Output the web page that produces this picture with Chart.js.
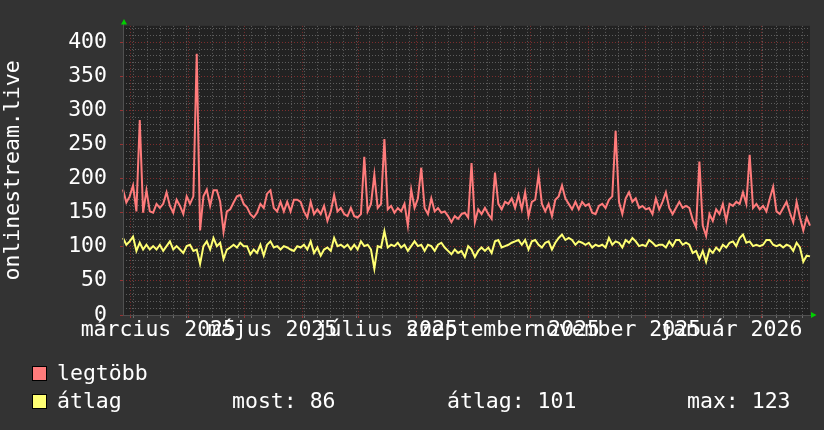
<!DOCTYPE html>
<html>
<head>
<meta charset="utf-8">
<script src="https://cdn.jsdelivr.net/npm/chart.js@4.4.1/dist/chart.umd.min.js"></script>
<style>
html, body { margin: 0; padding: 0; background: #333333; }
#doboz { width: 824px; height: 430px; }
</style>
</head>
<body>
<div id="doboz"><canvas id="grafikon" width="824" height="430"></canvas></div>
<script>

// napi mintak, kb. 1,8 naponkent (2025. febr. vege - 2026. febr. vege)
var legtobb = [
    184, 165, 174, 190, 152, 286, 150, 183, 152, 150,
    163, 157, 163, 180, 160, 150, 169, 160, 148, 174,
    163, 174, 383, 124, 174, 184, 160, 183, 183, 166,
    122, 152, 155, 165, 174, 176, 163, 158, 148, 143,
    150, 163, 157, 178, 183, 157, 152, 166, 152, 166,
    152, 169, 169, 166, 152, 143, 166, 148, 155, 148,
    160, 138, 152, 176, 152, 157, 148, 145, 157, 145,
    143, 148, 232, 152, 163, 206, 157, 163, 258, 155,
    160, 150, 157, 152, 163, 131, 184, 157, 171, 216,
    157, 148, 171, 152, 157, 150, 152, 145, 136, 145,
    141, 148, 150, 143,
    223, 136, 155, 148, 157, 148, 141, 209, 163, 155,
    166, 163, 171, 157, 176, 155, 180, 145, 166, 169,
    206, 163, 152, 163, 145, 169, 174, 190, 171, 163,
    155, 166, 155, 166, 160, 163, 150, 148, 160, 163,
    157, 169, 174, 270, 166, 148, 171, 180, 166, 171,
    157, 160, 155, 157, 148, 171, 155, 166, 180, 157,
    148, 157, 166, 157, 160, 157, 140, 129, 225, 131,
    116, 148, 138, 155, 148, 163, 138, 163, 160, 166,
    163, 180, 163, 235, 157, 163, 155, 160, 152, 171,
    188, 152, 148, 157, 166, 150, 136, 166, 143, 124,
    143, 131
];

var atlag = [
    113, 103, 108, 115, 94, 106, 96, 103, 96, 101,
    96, 103, 94, 101, 108, 96, 101, 96, 91, 101,
    103, 94, 96, 75, 101, 108, 96, 113, 101, 106,
    82, 96, 99, 103, 99, 106, 101, 101, 89, 96,
    91, 103, 87, 103, 108, 99, 101, 96, 101, 99,
    96, 94, 101, 99, 103, 96, 108, 91, 99, 87,
    96, 99, 94, 113, 101, 103, 99, 103, 96, 103,
    96, 108, 101, 103, 96, 68, 101, 99, 123, 99,
    103, 101, 106, 99, 103, 94, 101, 108, 101, 103,
    94, 103, 101, 94, 103, 106, 99, 94, 89, 96,
    91, 94, 85, 101,
    96, 85, 94, 99, 94, 99, 91, 108, 110, 99,
    101, 103, 106, 108, 110, 103, 110, 96, 108, 110,
    103, 99, 106, 108, 96, 106, 113, 118, 110, 113,
    110, 103, 108, 106, 103, 106, 99, 103, 101, 103,
    99, 113, 103, 108, 106, 99, 110, 106, 113, 108,
    101, 103, 101, 110, 106, 101, 103, 103, 99, 108,
    101, 110, 110, 103, 106, 103, 91, 94, 82, 94,
    78, 96, 91, 99, 94, 103, 99, 106, 108, 101,
    113, 118, 106, 108, 101, 103, 101, 103, 110, 110,
    103, 101, 103, 99, 103, 101, 94, 106, 99, 78,
    87, 86
];

var cimkek = ['március 2025', 'május 2025', 'július 2025', 'szeptember 2025', 'november 2025', 'január 2026'];
var cimkeHonapok = [2, 4, 6, 8, 10, 12];   // honap sorszama 2025 januartol

var NAP = 864e5;
var kezdet = Date.UTC(2025, 1, 25, 3, 0);
var hossz = 367;
function nap(t) { return (t - kezdet) / NAP; }

var betu = '"DejaVu Sans Mono", "Liberation Mono", monospace';
var piros = '#ff7b7b';
var sarga = '#ffff73';
var racsSzurke = 'rgba(100,100,100,0.9)';
var racsPiros = 'rgb(125,45,45)';

var mind = atlag.reduce(function (a, b) { return a + b; }, 0);
var most = atlag[atlag.length - 1];
var atl = Math.round(mind / atlag.length);
var maxi = Math.max.apply(null, atlag);

var hatter = {
    id: 'hatter',
    beforeDraw: function (chart) {
        var ctx = chart.ctx, a = chart.chartArea;
        ctx.save();
        ctx.fillStyle = '#333333';
        ctx.fillRect(0, 0, chart.width, chart.height);
        ctx.fillStyle = '#222222';
        ctx.fillRect(a.left, a.top, a.right - a.left, a.bottom - a.top);
        ctx.restore();
    },
    afterDraw: function (chart) {
        var ctx = chart.ctx, a = chart.chartArea;
        ctx.save();
        // tengelyek
        ctx.strokeStyle = '#505050';
        ctx.lineWidth = 1;
        ctx.beginPath();
        ctx.moveTo(a.left + 0.5, a.bottom);
        ctx.lineTo(a.left + 0.5, a.top - 2);
        ctx.moveTo(a.left, a.bottom + 0.5);
        ctx.lineTo(a.right + 2, a.bottom + 0.5);
        ctx.stroke();
        // zold nyilak
        ctx.fillStyle = '#00d000';
        ctx.beginPath();
        ctx.moveTo(a.left - 2, a.top - 1.5);
        ctx.lineTo(a.left + 4, a.top - 1.5);
        ctx.lineTo(a.left + 1, a.top - 7);
        ctx.closePath();
        ctx.fill();
        ctx.beginPath();
        ctx.moveTo(a.right + 1, a.bottom - 3);
        ctx.lineTo(a.right + 1, a.bottom + 3);
        ctx.lineTo(a.right + 6.5, a.bottom);
        ctx.closePath();
        ctx.fill();

        // jelmagyarazat
        ctx.font = '21.5px ' + betu;
        ctx.textBaseline = 'alphabetic';
        ctx.textAlign = 'left';
        var sorok = [
            { szin: piros, nev: chart.data.datasets[0].label, y: 366 },
            { szin: sarga, nev: chart.data.datasets[1].label, y: 394 }
        ];
        sorok.forEach(function (s) {
            ctx.fillStyle = s.szin;
            ctx.fillRect(32, s.y, 15, 15);
            ctx.strokeStyle = '#000000';
            ctx.strokeRect(32.5, s.y + 0.5, 14, 14);
            ctx.fillStyle = '#ffffff';
            ctx.fillText(s.nev, 57, s.y + 13.5);
        });
        ctx.fillStyle = '#ffffff';
        ctx.fillText('most: ' + most, 232, 407.5);
        ctx.fillText('átlag: ' + atl, 447, 407.5);
        ctx.fillText('max: ' + maxi, 687, 407.5);
        ctx.restore();
    }
};

function idoTickek(scale) {
    var t = [];
    var veg = kezdet + hossz * NAP;
    for (var d = Date.UTC(2025, 2, 3); d < veg; d += 7 * NAP) {
        t.push({ value: nap(d), tipus: 'het' });
    }
    for (var m = 2; m <= 13; m++) {
        t.push({ value: nap(Date.UTC(2025, m, 1)), tipus: 'honap' });
    }
    cimkek.forEach(function (c, i) {
        t.push({ value: nap(Date.UTC(2025, cimkeHonapok[i], 1)) + 15, tipus: 'cimke', szoveg: c });
    });
    t.sort(function (a, b) { return a.value - b.value; });
    scale.ticks = t;
}

function ertekTickek(scale) {
    var t = [];
    for (var v = 0; v <= 420; v += 10) t.push({ value: v });
    scale.ticks = t;
}

var ctx = document.getElementById('grafikon').getContext('2d');

new Chart(ctx, {
    type: 'line',
    data: {
        labels: legtobb.map(function (v, i) { return i; }),
        datasets: [{
            label: 'legtöbb',
            data: legtobb,
            borderColor: piros,
            borderWidth: 2,
            pointRadius: 0,
            tension: 0,
            fill: false,
            xAxisID: 'x',
            yAxisID: 'y'
        }, {
            label: 'átlag',
            data: atlag,
            borderColor: sarga,
            borderWidth: 2,
            pointRadius: 0,
            tension: 0,
            fill: false,
            xAxisID: 'x',
            yAxisID: 'y'
        }]
    },
    options: {
        responsive: false,
        animation: false,
        devicePixelRatio: 1,
        layout: { padding: { left: 0, top: 14, right: 14, bottom: 85 } },
        plugins: {
            legend: { display: false },
            tooltip: { enabled: false }
        },
        scales: {
            x: {
                type: 'category',
                display: false,
                offset: false
            },
            ido: {
                type: 'linear',
                position: 'bottom',
                min: 0,
                max: hossz,
                afterBuildTicks: idoTickek,
                afterFit: function (s) { s.height = 30; },
                border: {
                    display: false,
                    dash: [1, 2]
                },
                grid: {
                    drawTicks: true,
                    tickLength: 3,
                    lineWidth: 1,
                    color: function (c) {
                        if (!c.tick) return 'transparent';
                        if (c.tick.tipus === 'honap') return racsPiros;
                        if (c.tick.tipus === 'het') return racsSzurke;
                        return 'transparent';
                    },
                    tickColor: function (c) {
                        if (!c.tick) return 'transparent';
                        if (c.tick.tipus === 'honap') return 'rgb(150,50,50)';
                        if (c.tick.tipus === 'het') return 'rgb(110,110,110)';
                        return 'transparent';
                    }
                },
                ticks: {
                    autoSkip: false,
                    maxRotation: 0,
                    minRotation: 0,
                    padding: 0,
                    color: '#ffffff',
                    font: { family: betu, size: 21.5 },
                    callback: function (v, i, t) {
                        return t[i] && t[i].tipus === 'cimke' ? t[i].szoveg : '';
                    }
                }
            },
            y: {
                type: 'linear',
                min: 0,
                max: 424,
                afterBuildTicks: ertekTickek,
                afterFit: function (s) { s.width = 123; },
                border: {
                    display: false,
                    dash: [1, 2]
                },
                grid: {
                    drawTicks: true,
                    tickLength: 3,
                    color: function (c) {
                        if (!c.tick) return 'transparent';
                        return c.tick.value % 50 === 0 ? racsPiros : racsSzurke;
                    },
                    tickColor: function (c) {
                        if (!c.tick) return 'transparent';
                        return c.tick.value % 50 === 0 ? 'rgb(150,50,50)' : 'transparent';
                    }
                },
                title: {
                    display: true,
                    text: 'onlinestream.live',
                    color: '#ffffff',
                    font: { family: betu, size: 21.5 },
                    padding: { top: 1, bottom: 0 }
                },
                ticks: {
                    autoSkip: false,
                    padding: 13,
                    color: '#ffffff',
                    font: { family: betu, size: 21.5 },
                    callback: function (v) { return v % 50 === 0 ? String(v) : ''; }
                }
            }
        }
    },
    plugins: [hatter]
});
</script>
</body>
</html>
